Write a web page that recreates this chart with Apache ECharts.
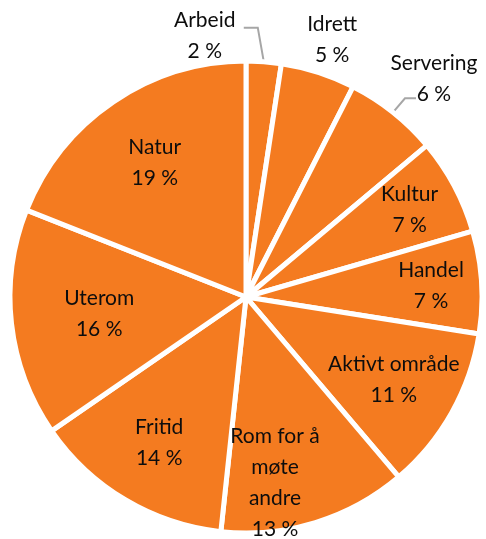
<!DOCTYPE html>
<html>
<head>
<meta charset="utf-8">
<script src="https://cdn.jsdelivr.net/npm/echarts@6/dist/echarts.min.js"></script>
<style>
  html, body { margin: 0; padding: 0; background: #fff; }
  #chart { width: 486px; height: 539px; }
</style>
</head>
<body>
<div id="chart"></div>
<script>
const names = ['Arbeid', 'Idrett', 'Servering', 'Kultur', 'Handel', 'Aktivt område',
    'Rom for å møte andre', 'Fritid', 'Uterom', 'Natur']
const values = [2.4, 5.1, 6.4, 6.6, 7.0, 11.3, 12.9, 13.7, 15.6, 19.0]

const orange = '#F47B20'
const font = {
    fontFamily: 'Lato',
    fontSize: 21,
    lineHeight: 31,
    color: '#0d0d0d',
    align: 'center',
}
const center = [246, 297]
const radius = 236

// outside labels: label offset from the slice edge, optional leader bends
const outside = {
    'Arbeid': { label: [-59, -26], line: [[-6, -34], [-20, -34]] },
    'Idrett': { label: [14, -33] },
    'Servering': { label: [41, -34], line: [[12, -14], [23, -14]] },
}
// inside label rings: [inner radius of the label ring, names]
const rings = [
    ['22%', ['Uterom']],
    ['34%', ['Natur']],
    ['40%', ['Aktivt område', 'Fritid']],
    ['53%', ['Kultur', 'Handel']],
    ['60%', ['Rom for å møte andre']],
]
// names that Excel wrapped (max characters per line)
const wrapAt = { 'Rom for å møte andre': 9 }

function wrap(text, max) {
    const lines = []
    let cur = ''
    text.split(' ').forEach(w => {
        if (cur && (cur + ' ' + w).length > max) {
            lines.push(cur)
            cur = w
        } else {
            cur = cur ? cur + ' ' + w : w
        }
    })
    lines.push(cur)
    return lines.join('\n')
}

function fmt(p) {
    const n = wrapAt[p.name] ? wrap(p.name, wrapAt[p.name]) : p.name
    return n + '\n' + Math.round(p.value) + ' %'
}

function baseData() {
    return names.map((n, i) => ({ name: n, value: values[i] }))
}

// point on the rim at the middle of slice i
function edge(i) {
    const total = values.reduce((a, b) => a + b, 0)
    let before = 0
    for (let k = 0; k < i; k++) before += values[k]
    const a = (before + values[i] / 2) / total * Math.PI * 2
    return [center[0] + radius * Math.sin(a), center[1] - radius * Math.cos(a)]
}

function outerLayout(p) {
    const o = outside[names[p.dataIndex]]
    if (!o) return
    const e = edge(p.dataIndex)
    const res = {
        x: e[0] + o.label[0],
        y: e[1] + o.label[1],
        align: 'center',
        verticalAlign: 'middle',
    }
    if (o.line) {
        res.labelLinePoints = [e].concat(o.line.map(d => [e[0] + d[0], e[1] + d[1]]))
    }
    return res
}

function draw() {
    const chart = echarts.init(document.getElementById('chart'))

    const mainData = baseData().map(d => {
        const o = outside[d.name]
        return {
            ...d,
            label: { show: !!o },
            labelLine: { show: !!(o && o.line) },
        }
    })

    const series = [{
        type: 'pie',
        center: center,
        radius: [0, radius],
        startAngle: 90,
        clockwise: true,
        avoidLabelOverlap: false,
        itemStyle: { color: orange, borderColor: '#fff', borderWidth: 5 },
        label: {
            position: 'outside',
            formatter: fmt,
            ...font,
        },
        labelLine: {
            length: 14,
            length2: 12,
            lineStyle: { color: '#a6a6a6', width: 2 },
        },
        labelLayout: outerLayout,
        emphasis: { disabled: true },
        data: mainData,
    }]

    rings.forEach(([r0, shown]) => {
        series.push({
            type: 'pie',
            center: center,
            radius: [r0, radius],
            startAngle: 90,
            clockwise: true,
            silent: true,
            avoidLabelOverlap: false,
            itemStyle: { color: 'rgba(0,0,0,0)' },
            label: {
                position: 'inside',
                formatter: fmt,
                ...font,
            },
            labelLine: { show: false },
            labelLayout: function (p) {
                // Excel nudged this one toward the bottom
                if (names[p.dataIndex] === 'Rom for å møte andre') return { dx: -28 }
            },
            data: baseData().map(d => ({
                ...d,
                label: { show: shown.includes(d.name) },
            })),
        })
    })

    chart.setOption({ animation: false, series: series })
}

draw()
</script>
</body>
</html>
